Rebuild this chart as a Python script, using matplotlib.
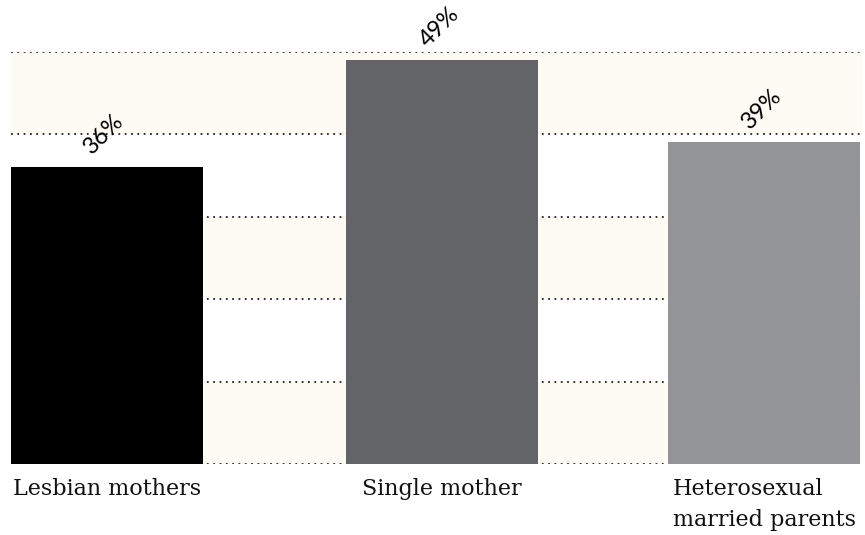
import matplotlib
matplotlib.use("Agg")
import matplotlib.pyplot as plt

categories = ["Lesbian mothers", "Single mother", "Heterosexual\nmarried parents"]
values = [36, 49, 39]
value_labels = ["36%", "49%", "39%"]
bar_colors = ["#000000", "#636467", "#939498"]
grid_levels = [0, 10, 20, 30, 40, 50]
band_ranges = [(0, 10), (20, 30), (40, 50)]

positions = [0, 1.745, 3.422]

W, H = 865, 535
fig = plt.figure(figsize=(W / 100, H / 100), dpi=100)
ax = fig.add_axes([11 / W, 70.7 / H, 851 / W, 412.6 / H])
ax.set_xlim(-0.5, 3.932)
ax.set_ylim(0, 50)

for lo, hi in band_ranges:
    ax.axhspan(lo, hi, color="#FEFBF5", zorder=0, lw=0)
for g in grid_levels:
    ax.axhline(g, color="#222222", lw=1.3, linestyle=(0, (1, 2.5)), zorder=1)

ax.bar(positions, values, width=1.0, color=bar_colors, zorder=2)

for x, v, lab in zip(positions, values, value_labels):
    ax.annotate(lab, (x, v), xytext=(-2, 24), textcoords="offset points",
                rotation=45, ha="center", va="center", rotation_mode="anchor",
                fontsize=17, family="Lato", color="#000000", annotation_clip=False)

ax.set_xticks(positions)
ax.set_xticklabels(categories, fontsize=16, family="DejaVu Serif", color="#111111",
                   multialignment="left", linespacing=1.5)
ax.tick_params(axis="x", length=0, pad=10)
ax.set_yticks([])
for s in ax.spines.values():
    s.set_visible(False)

fig.savefig("out.png", dpi=100)
